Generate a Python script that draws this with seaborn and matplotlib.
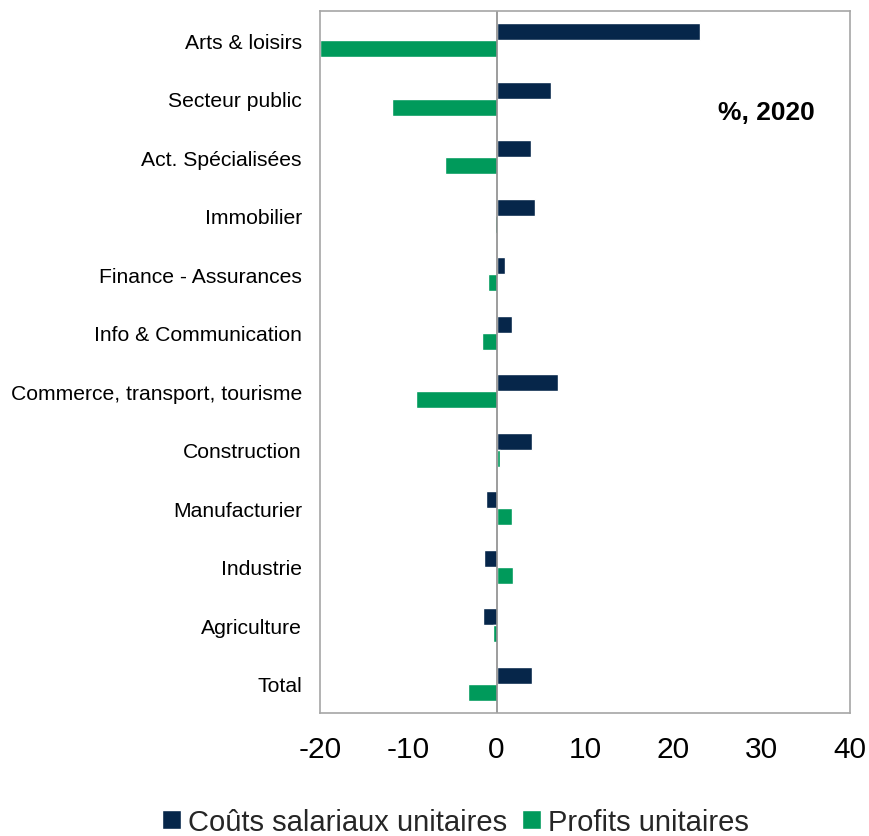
import matplotlib
matplotlib.use("Agg")
import matplotlib.pyplot as plt
import seaborn as sns
import pandas as pd
from matplotlib.patches import Patch

categories = [
    "Arts & loisirs", "Secteur public", "Act. Spécialisées", "Immobilier",
    "Finance - Assurances", "Info & Communication",
    "Commerce, transport, tourisme", "Construction", "Manufacturier",
    "Industrie", "Agriculture", "Total",
]
couts_salariaux = [23.0, 6.2, 3.9, 4.4, 0.9, 1.7, 6.9, 4.0, -1.2, -1.4, -1.5, 4.0]
profits = [-20.0, -11.8, -5.8, -0.2, -1.0, -1.7, -9.1, 0.4, 1.7, 1.9, -0.4, -3.2]
series_names = ["Coûts salariaux unitaires", "Profits unitaires"]
x_ticks = [-20, -10, 0, 10, 20, 30, 40]

navy = "#06264A"
green = "#009A5B"

df = pd.DataFrame({
    "Secteur": categories * 2,
    "Valeur": couts_salariaux + profits,
    "Série": [series_names[0]] * len(categories) + [series_names[1]] * len(categories),
})

sns.set_theme(style="white")
plt.rcParams["font.family"] = ["Liberation Sans", "DejaVu Sans"]

fig = plt.figure(figsize=(8.69, 8.37), dpi=100)
ax = fig.add_axes([0.3682, 0.147, 0.6098, 0.8388])

sns.barplot(
    data=df, y="Secteur", x="Valeur", hue="Série", order=categories,
    hue_order=series_names, palette=[navy, green], orient="h",
    width=0.58, gap=0, saturation=1, legend=False, ax=ax,
)

ax.axvline(0, color="#8C8C8C", lw=1.2, zorder=1)
ax.set_xlim(-20, 40)
ax.set_ylim(len(categories) - 0.5, -0.5)
ax.set_xticks(x_ticks)
ax.set_xticklabels([str(t) for t in x_ticks], fontsize=21.5)
ax.tick_params(axis="x", length=0, pad=16, colors="black")
ax.tick_params(axis="y", length=0, pad=13, labelsize=15.2, colors="black")
ax.set_xlabel("")
ax.set_ylabel("")
for sp in ax.spines.values():
    sp.set_color("#A6A6A6")
    sp.set_linewidth(1.2)

ax.text(0.934, 0.856, "%, 2020", transform=ax.transAxes, ha="right", va="center",
        fontsize=19, fontweight="bold", color="black")

handles = [Patch(facecolor=navy, label=series_names[0]),
           Patch(facecolor=green, label=series_names[1])]
fig.legend(handles=handles, loc="center", bbox_to_anchor=(0.524, 0.017), ncol=2,
           frameon=False, fontsize=21, handlelength=0.65, handleheight=0.65,
           handletextpad=0.25, columnspacing=0.5, borderpad=0)

fig.savefig("out.png", dpi=100)
